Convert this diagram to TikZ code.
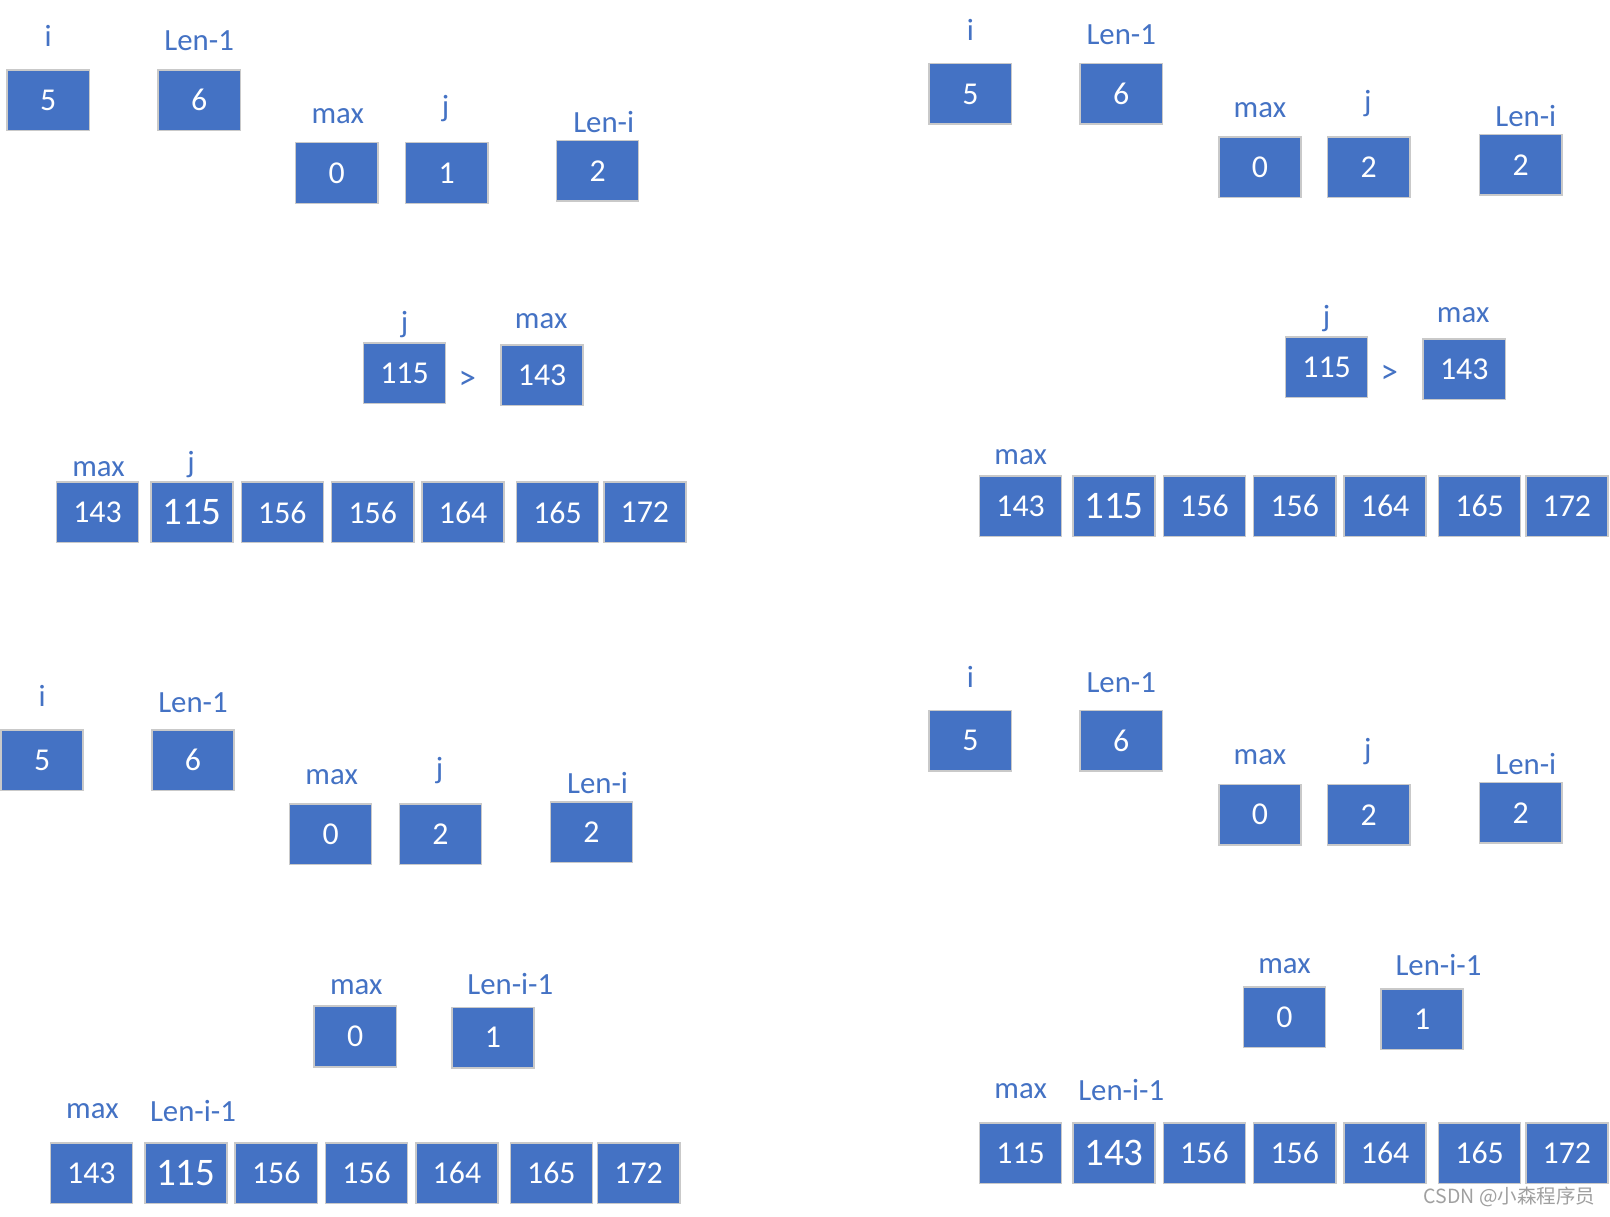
\documentclass[tikz,border=0pt]{standalone}
\usepackage{fontspec}
\setmainfont{Carlito}
\newfontfamily\cjkfont{Noto Sans CJK SC}
\definecolor{boxblue}{HTML}{4472C4}
\definecolor{boxline}{HTML}{C9C9C9}
\definecolor{wmgray}{HTML}{A0A0A0}
\tikzset{
  cell/.style={draw=boxline, line width=1.5pt, fill=boxblue, minimum width=80pt, minimum height=59pt, inner sep=0pt, text=white, font=\fontsize{31}{36}\selectfont},
  bigcell/.style={cell, font=\fontsize{38}{44}\selectfont},
  lbl/.style={text=boxblue, font=\fontsize{30}{35}\selectfont, inner sep=0pt},
  gtsign/.style={text=boxblue, font=\fontsize{34}{38}\selectfont, inner sep=0pt},
  wmark/.style={text=wmgray, font=\cjkfont\fontsize{19}{22}\selectfont, inner sep=0pt}
}
\begin{document}
\begin{tikzpicture}[x=1pt,y=-1pt]
\useasboundingbox[fill=white] (0,0) rectangle (1568,1185);
% ---------- Top left ----------
\node[lbl] (tlLi) at (47,35) {i};
\node[cell] (tlBi) at (47,97.5) {5};
\node[lbl] (tlLlen) at (194,40) {Len-1};
\node[cell] (tlBlen) at (194,97.5) {6};
\node[lbl] (tlLmax) at (329,113) {max};
\node[cell] (tlBmax) at (328,168.5) {0};
\node[lbl] (tlLj) at (434,106) {j};
\node[cell] (tlBj) at (435,168.5) {1};
\node[lbl] (tlLleni) at (588,119) {Len-i};
\node[cell] (tlBleni) at (582,166.5) {2};
\node[lbl] (tlMLj) at (394,316) {j};
\node[cell] (tlMBj) at (394,363.5) {115};
\node[gtsign] (tlGt) at (455,370) {>};
\node[lbl] (tlMLmax) at (527,313) {max};
\node[cell] (tlMBmax) at (528,365.5) {143};
\node[lbl] (tlRLmax) at (96,457) {max};
\node[lbl] (tlRLj) at (186,452) {j};
\node[cell] (tlR1) at (95,499) {143};
\node[bigcell] (tlR2) at (187,499) {115};
\node[cell] (tlR3) at (275,499) {156};
\node[cell] (tlR4) at (363,499) {156};
\node[cell] (tlR5) at (451,499) {164};
\node[cell] (tlR6) at (543,499) {165};
\node[cell] (tlR7) at (628,499) {172};
% ---------- Top right ----------
\node[lbl] (trLi) at (945,29) {i};
\node[cell] (trBi) at (945,91.5) {5};
\node[lbl] (trLlen) at (1092,34) {Len-1};
\node[cell] (trBlen) at (1092,91.5) {6};
\node[lbl] (trLmax) at (1227,107) {max};
\node[cell] (trBmax) at (1227,163) {0};
\node[lbl] (trLj) at (1332,101) {j};
\node[cell] (trBj) at (1333,163) {2};
\node[lbl] (trLleni) at (1486,113) {Len-i};
\node[cell] (trBleni) at (1481,160.5) {2};
\node[lbl] (trMLj) at (1292,310) {j};
\node[cell] (trMBj) at (1292,357.5) {115};
\node[gtsign] (trGt) at (1353,365) {>};
\node[lbl] (trMLmax) at (1425,307) {max};
\node[cell] (trMBmax) at (1426,359.5) {143};
\node[lbl] (trRLmax) at (994,445) {max};
\node[cell] (trR1) at (994,493) {143};
\node[bigcell] (trR2) at (1085,493) {115};
\node[cell] (trR3) at (1173,493) {156};
\node[cell] (trR4) at (1261,493) {156};
\node[cell] (trR5) at (1349,493) {164};
\node[cell] (trR6) at (1441,493) {165};
\node[cell] (trR7) at (1526,493) {172};
% ---------- Bottom left ----------
\node[lbl] (blLi) at (41,678) {i};
\node[cell] (blBi) at (41,740.5) {5};
\node[lbl] (blLlen) at (188,684) {Len-1};
\node[cell] (blBlen) at (188,740.5) {6};
\node[lbl] (blLmax) at (323,757) {max};
\node[cell] (blBmax) at (322,812.5) {0};
\node[lbl] (blLj) at (428,750) {j};
\node[cell] (blBj) at (429,812.5) {2};
\node[lbl] (blLleni) at (582,763) {Len-i};
\node[cell] (blBleni) at (576,810.5) {2};
\node[lbl] (blMLmax) at (347,961) {max};
\node[cell] (blMBmax) at (346,1009.5) {0};
\node[lbl] (blMLlen) at (497,958) {Len-i-1};
\node[cell] (blMBlen) at (480,1010.5) {1};
\node[lbl] (blRLmax) at (90,1082) {max};
\node[lbl] (blRLlen) at (188,1082) {Len-i-1};
\node[cell] (blR1) at (89,1142.5) {143};
\node[bigcell] (blR2) at (181,1142.5) {115};
\node[cell] (blR3) at (269,1142.5) {156};
\node[cell] (blR4) at (357,1142.5) {156};
\node[cell] (blR5) at (445,1142.5) {164};
\node[cell] (blR6) at (537,1142.5) {165};
\node[cell] (blR7) at (622,1142.5) {172};
% ---------- Bottom right ----------
\node[lbl] (brLi) at (945,659) {i};
\node[cell] (brBi) at (945,721.5) {5};
\node[lbl] (brLlen) at (1092,665) {Len-1};
\node[cell] (brBlen) at (1092,721.5) {6};
\node[lbl] (brLmax) at (1227,737) {max};
\node[cell] (brBmax) at (1227,793.5) {0};
\node[lbl] (brLj) at (1332,732) {j};
\node[cell] (brBj) at (1333,793.5) {2};
\node[lbl] (brLleni) at (1486,744) {Len-i};
\node[cell] (brBleni) at (1481,791.5) {2};
\node[lbl] (brMLmax) at (1251,941) {max};
\node[cell] (brMBmax) at (1251,990.5) {0};
\node[lbl] (brMLlen) at (1401,940) {Len-i-1};
\node[cell] (brMBlen) at (1385,992.5) {1};
\node[lbl] (brRLmax) at (994,1063) {max};
\node[lbl] (brRLlen) at (1092,1062) {Len-i-1};
\node[cell] (brR1) at (994,1123) {115};
\node[bigcell] (brR2) at (1085,1123) {143};
\node[cell] (brR3) at (1173,1123) {156};
\node[cell] (brR4) at (1261,1123) {156};
\node[cell] (brR5) at (1349,1123) {164};
\node[cell] (brR6) at (1441,1123) {165};
\node[cell] (brR7) at (1526,1123) {172};
% watermark
\node[wmark] (wm) at (1470,1166) {CSDN @小森程序员};
\end{tikzpicture}
\end{document}
